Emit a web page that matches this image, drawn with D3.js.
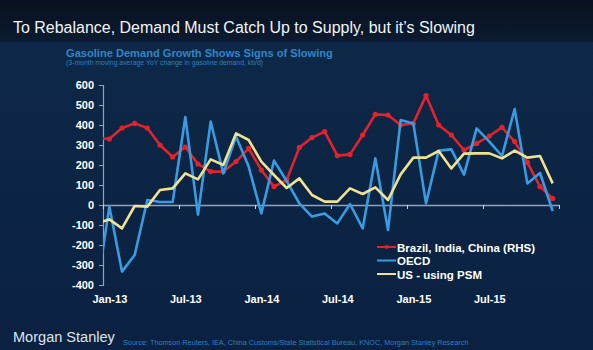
<!DOCTYPE html>
<html>
<head>
<meta charset="utf-8">
<script src="https://cdn.jsdelivr.net/npm/d3@7"></script>
<style>
  html, body { margin: 0; padding: 0; background: #0c2343; }
  svg { display: block; }
</style>
</head>
<body>
<div id="main"></div>
<script>
// month categories; "Dec-12" is only a lead-in point, clipped at the axis
var months = ["Dec-12",
  "Jan-13", "Feb-13", "Mar-13", "Apr-13", "May-13", "Jun-13", "Jul-13", "Aug-13", "Sep-13", "Oct-13", "Nov-13", "Dec-13",
  "Jan-14", "Feb-14", "Mar-14", "Apr-14", "May-14", "Jun-14", "Jul-14", "Aug-14", "Sep-14", "Oct-14", "Nov-14", "Dec-14",
  "Jan-15", "Feb-15", "Mar-15", "Apr-15", "May-15", "Jun-15", "Jul-15", "Aug-15", "Sep-15", "Oct-15", "Nov-15", "Dec-15"];

var bicValues = [335,
  330, 385, 408, 385, 300, 240, 290, 205, 167, 167, 217, 283,
  175, 92, 125, 287, 337, 367, 247, 253, 350, 453, 450, 400,
  408, 547, 400, 350, 275, 308, 345, 388, 317, 213, 92, 33];

var oecdValues = [-430,
  -8, -333, -250, 25, 15, 15, 440, -48, 417, 158, 342, 192,
  -42, 222, 120, 8, -58, -42, -92, 5, -117, 233, -125, 425,
  408, 8, 272, 278, 152, 383, 317, 245, 480, 108, 160, -30];

var usValues = [-92,
  -72, -117, -5, -8, 75, 83, 158, 128, 228, 200, 358, 325,
  217, 150, 85, 133, 50, 17, 17, 83, 55, 88, 25, 153,
  237, 237, 270, 183, 257, 258, 258, 233, 272, 237, 245, 108];

var seriesNames = ["Brazil, India, China (RHS)", "OECD", "US - using PSM"];
var seriesColors = ["#e3232b", "#3a9be0", "#efe290"];

var yTicks = [600, 500, 400, 300, 200, 100, 0, -100, -200, -300, -400];
var xLabels = ["Jan-13", "Jul-13", "Jan-14", "Jul-14", "Jan-15", "Jul-15"];

var titleText = "To Rebalance, Demand Must Catch Up to Supply, but it\u2019s Slowing";
var subTitle = "Gasoline Demand Growth Shows Signs of Slowing";
var subNote = "(3-month moving average YoY change in gasoline demand, kb/d)";
var sourceText = "Source: Thomson Reuters, IEA, China Customs/State Statistical Bureau, KNOC, Morgan Stanley Research";

var ctx = {
    w: 593,
    h: 350,
    left: 103,
    right: 559,
    top: 85,
    bottom: 285,
    font: "'Liberation Sans', Arial, sans-serif"
};

// fit a text element to a width by adjusting its font size
function fitText(sel, width) {
    var len = sel.node().getComputedTextLength();
    var fs = parseFloat(sel.attr("font-size"));
    sel.attr("font-size", (fs * width / len).toFixed(2));
}

var createViz = function () {
    var svg = d3.select("#main").append("svg")
        .attr("width", ctx.w)
        .attr("height", ctx.h)
        .style("font-family", ctx.font);

    var defs = svg.append("defs");
    var bg = defs.append("linearGradient").attr("id", "bg").attr("x1", 0).attr("x2", 0).attr("y1", 0).attr("y2", 1);
    bg.append("stop").attr("offset", "0%").attr("stop-color", "#0e2949");
    bg.append("stop").attr("offset", "100%").attr("stop-color", "#0b2141");
    var band = defs.append("linearGradient").attr("id", "band").attr("x1", 0).attr("x2", 0).attr("y1", 0).attr("y2", 1);
    band.append("stop").attr("offset", "0%").attr("stop-color", "#07111f");
    band.append("stop").attr("offset", "100%").attr("stop-color", "#0c1b31");
    defs.append("clipPath").attr("id", "plotclip")
        .append("rect")
        .attr("x", ctx.left).attr("y", 0)
        .attr("width", ctx.right - ctx.left).attr("height", ctx.h);

    svg.append("rect").attr("width", ctx.w).attr("height", ctx.h).attr("fill", "url(#bg)");
    svg.append("rect").attr("width", ctx.w).attr("height", 42).attr("fill", "url(#band)");

    // titles
    var t = svg.append("text")
        .attr("x", 13).attr("y", 33)
        .attr("fill", "#f2f4f7")
        .attr("font-size", 18)
        .text(titleText);
    fitText(t, 462);

    var st = svg.append("text")
        .attr("x", 66).attr("y", 57)
        .attr("fill", "#2f86c6")
        .attr("font-size", 12)
        .attr("font-weight", "bold")
        .text(subTitle);
    fitText(st, 267);

    var sn = svg.append("text")
        .attr("x", 66).attr("y", 65)
        .attr("fill", "#2f7fbf")
        .attr("font-size", 6)
        .text(subNote);
    fitText(sn, 197);

    // scales
    var x = d3.scaleLinear().domain([0, 36]).range([ctx.left, ctx.right]);
    var y = d3.scaleLinear().domain([-400, 600]).range([ctx.bottom, ctx.top]);
    var xPos = function (i) { return x(i - 0.5); }; // index 1 = Jan-13 centre

    // y axis
    var yAxis = svg.append("g")
        .attr("transform", "translate(" + ctx.left + ",0)")
        .call(d3.axisLeft(y).tickValues(yTicks).tickSize(4).tickPadding(5)
            .tickFormat(function (d) { return String(d); }));
    yAxis.select(".domain").attr("stroke", "#8fa3bb").attr("stroke-width", 1.2);
    yAxis.selectAll(".tick line").attr("stroke", "#8fa3bb");
    yAxis.selectAll("text")
        .attr("fill", "#ffffff")
        .attr("font-size", 11)
        .attr("font-weight", "bold")
        .attr("font-family", ctx.font);

    // zero line with half-year ticks
    var xAxis = svg.append("g")
        .attr("transform", "translate(0," + y(0) + ")")
        .call(d3.axisBottom(x).tickValues([0, 6, 12, 18, 24, 30, 36]).tickSize(4)
            .tickSizeOuter(0).tickFormat(""));
    xAxis.select(".domain").attr("stroke", "#8fa3bb").attr("stroke-width", 1.5);
    xAxis.selectAll(".tick line").attr("stroke", "#c9d4e0");

    // month labels along the bottom
    var xLab = svg.append("g")
        .attr("transform", "translate(0," + ctx.bottom + ")")
        .call(d3.axisBottom(x).tickValues(xLabels.map(function (m) { return months.indexOf(m) - 0.5; }))
            .tickSize(0).tickPadding(10)
            .tickFormat(function (d) { return months[d + 0.5]; }));
    xLab.select(".domain").remove();
    xLab.selectAll("text")
        .attr("fill", "#ffffff")
        .attr("font-size", 11)
        .attr("font-weight", "bold")
        .attr("font-family", ctx.font);

    // series lines
    var allSeries = [bicValues, oecdValues, usValues];
    var line = d3.line()
        .x(function (d, i) { return xPos(i); })
        .y(function (d) { return y(d); });

    var plot = svg.append("g").attr("clip-path", "url(#plotclip)");
    allSeries.forEach(function (vals, k) {
        plot.append("path")
            .datum(vals)
            .attr("fill", "none")
            .attr("stroke", seriesColors[k])
            .attr("stroke-width", 2.6)
            .attr("stroke-linejoin", "round")
            .attr("d", line);
        if (k === 0) {
            plot.selectAll(".dot")
                .data(vals.slice(1))
                .enter()
                .append("circle")
                .attr("cx", function (d, i) { return xPos(i + 1); })
                .attr("cy", function (d) { return y(d); })
                .attr("r", 2.6)
                .attr("fill", seriesColors[0]);
        }
    });

    // legend
    var legend = svg.append("g");
    seriesNames.forEach(function (name, k) {
        var ly = 247 + k * 13.5;
        legend.append("line")
            .attr("x1", 377).attr("x2", 396)
            .attr("y1", ly).attr("y2", ly)
            .attr("stroke", seriesColors[k])
            .attr("stroke-width", 2);
        if (k === 0) {
            legend.append("circle").attr("cx", 386.5).attr("cy", ly).attr("r", 2).attr("fill", seriesColors[0]);
        }
        legend.append("text")
            .attr("x", 397).attr("y", ly + 4.5)
            .attr("fill", "#ffffff")
            .attr("font-size", 11.5)
            .attr("font-weight", "bold")
            .text(name);
    });

    // footer
    var ms = svg.append("text")
        .attr("x", 13).attr("y", 342)
        .attr("fill", "#dfe4ea")
        .attr("font-size", 16)
        .text("Morgan Stanley");
    fitText(ms, 102);

    var src = svg.append("text")
        .attr("x", 123).attr("y", 345)
        .attr("fill", "#2f7fbf")
        .attr("font-size", 7)
        .text(sourceText);
    fitText(src, 346);
};

createViz();
</script>
</body>
</html>
